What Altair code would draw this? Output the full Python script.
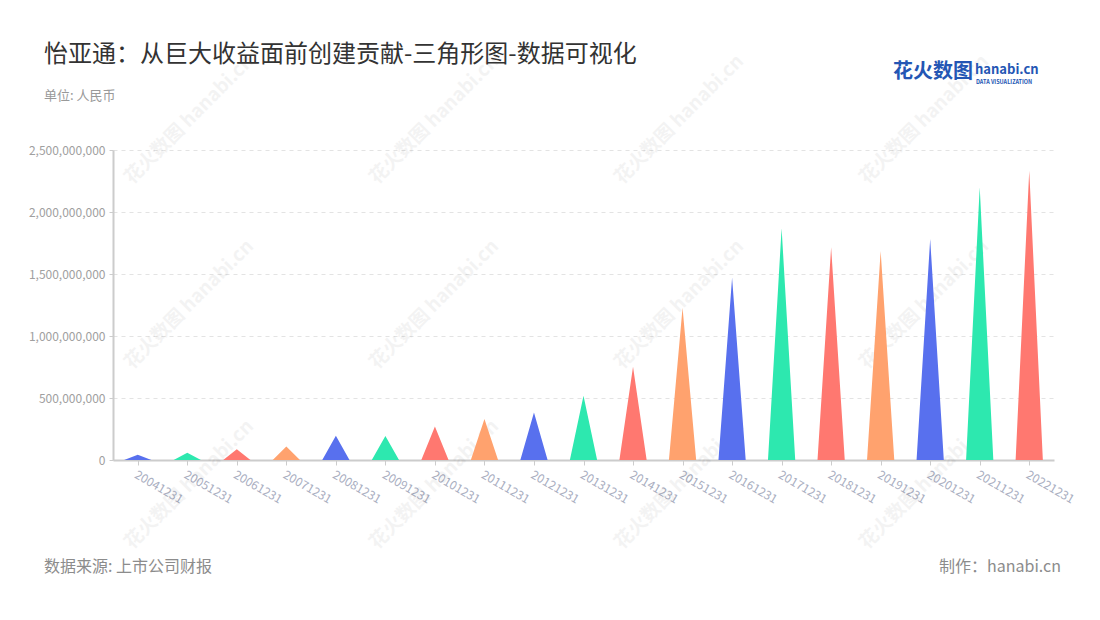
import altair as alt
import pandas as pd

# ---- data ----
categories = ["20041231", "20051231", "20061231", "20071231", "20081231", "20091231",
              "20101231", "20111231", "20121231", "20131231", "20141231", "20151231",
              "20161231", "20171231", "20181231", "20191231", "20201231", "20211231",
              "20221231"]
values = [42e6, 59e6, 86e6, 108e6, 196e6, 194e6, 271e6, 331e6, 384e6, 519e6,
          753e6, 1228e6, 1470e6, 1868e6, 1715e6, 1685e6, 1782e6, 2199e6, 2333e6]
palette = ["#5870EE", "#2DE8AF", "#FF7870", "#FFA26E"]
y_ticks = [0, 500000000, 1000000000, 1500000000, 2000000000, 2500000000]

title_text = "怡亚通：从巨大收益面前创建贡献-三角形图-数据可视化"
subtitle_text = "单位: 人民币"
source_text = "数据来源: 上市公司财报"
maker_text = "制作：hanabi.cn"

FONT = "Noto Sans CJK SC"
W, H = 941, 310
HALF = 0.275  # half base width of a triangle, in band units

# triangle vertex table built from the arrays
rows = []
for i, (c, v) in enumerate(zip(categories, values)):
    for k in (-1, 0, 1):
        rows.append({"cat": c, "idx": i, "value": v, "k": k})
df = pd.DataFrame(rows)

color_range = [palette[i % len(palette)] for i in range(len(categories))]
label_expr = "[" + ",".join("'%s'" % c for c in categories) + "][datum.value]"

tri = alt.Chart(df).transform_calculate(
    xp=f"datum.idx + datum.k * {HALF}",
    yp="datum.k == 0 ? datum.value : 0",
).mark_area(opacity=1, interpolate="linear").encode(
    x=alt.X("xp:Q",
            scale=alt.Scale(domain=[-0.5, len(categories) - 0.5], nice=False, zero=False),
            axis=alt.Axis(values=list(range(len(categories))), labelExpr=label_expr,
                          title=None, grid=False, labelAngle=30, labelAlign="left",
                          labelBaseline="top", labelColor="#A9AEBF", labelFontSize=12,
                          labelFont=FONT, labelPadding=4, domainColor="#CCCCCC",
                          domainWidth=2, tickColor="#CCCCCC", tickSize=5,
                          labelOverlap=False)),
    y=alt.Y("yp:Q",
            scale=alt.Scale(domain=[0, 2500000000], nice=False),
            axis=alt.Axis(values=y_ticks, format=",d", title=None, labelColor="#A0A0A0",
                          labelFontSize=12, labelFont=FONT, labelPadding=4,
                          domainColor="#CCCCCC", domainWidth=2, tickColor="#CCCCCC",
                          tickSize=4, gridColor="#E3E3E3", gridDash=[4, 4],
                          gridWidth=1.2)),
    detail="cat:N",
    color=alt.Color("cat:N", scale=alt.Scale(domain=categories, range=color_range),
                    legend=None),
)

# watermark (decoration)
wm_x = [19, 264, 509, 754]
wm_y = [35, 220, 400]
wm_df = pd.DataFrame([{"px": x, "py": y} for y in wm_y for x in wm_x])
watermark = alt.Chart(wm_df).mark_text(
    text="花火数图 hanabi.cn", angle=315, align="left", baseline="alphabetic",
    fontSize=19, fontWeight="bold", font=FONT, color="#000000", opacity=0.045,
).encode(x=alt.X("px:Q", scale=None), y=alt.Y("py:Q", scale=None))


def label(text, x, y, size, color, align="left", weight="normal"):
    return alt.Chart(pd.DataFrame({"t": [text]})).mark_text(
        align=align, baseline="middle", fontSize=size, font=FONT, color=color,
        fontWeight=weight,
    ).encode(text="t:N", x=alt.value(x), y=alt.value(y))


texts = [
    label(title_text, -69, -95, 24, "#333333"),
    label(subtitle_text, -69, -54, 13, "#999999"),
    label(source_text, -69, 417, 16, "#8C8C8C"),
    label(maker_text, 948, 417, 16, "#8C8C8C", align="right"),
    label("花火数图", 780, -78, 20, "#2456B4", weight="bold"),
    label("hanabi.cn", 862, -80, 13, "#2456B4", weight="bold"),
    label("DATA VISUALIZATION", 863, -68, 5.5, "#2456B4", weight="bold"),
]

chart = alt.layer(watermark, tri, *texts).properties(
    width=W, height=H,
    autosize=alt.AutoSizeParams(type="none"),
    padding={"left": 105, "top": 142, "right": 38, "bottom": 152},
    background="white",
).configure_view(stroke=None)

chart.save("out.html", embed_options={"renderer": "svg", "actions": False})
